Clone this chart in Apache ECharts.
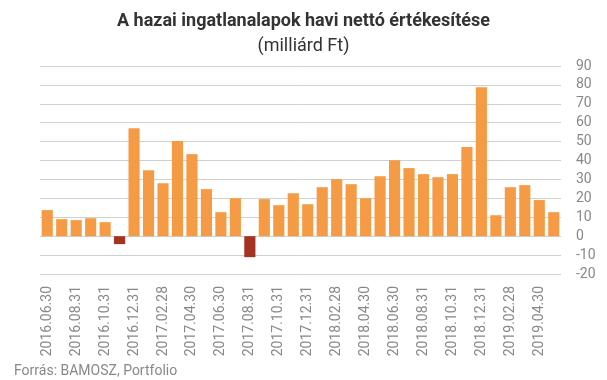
<!DOCTYPE html>
<html><head><meta charset="utf-8">
<script src="https://cdn.jsdelivr.net/npm/echarts@6/dist/echarts.min.js"></script>
<style>html,body{margin:0;padding:0;background:#fff}#c{width:607px;height:380px}</style>
</head><body><div id="c"></div>
<script>
const categories = ["2016.06.30","2016.07.31","2016.08.31","2016.09.30","2016.10.31","2016.11.30","2016.12.31","2017.01.31","2017.02.28","2017.03.31","2017.04.30","2017.05.31","2017.06.30","2017.07.31","2017.08.31","2017.09.30","2017.10.31","2017.11.30","2017.12.31","2018.01.31","2018.02.28","2018.03.31","2018.04.30","2018.05.31","2018.06.30","2018.07.31","2018.08.31","2018.09.30","2018.10.31","2018.11.30","2018.12.31","2019.01.31","2019.02.28","2019.03.31","2019.04.30","2019.05.31"];
const values = [13.8,9.0,8.5,9.5,7.4,-4.2,57.1,34.9,28.0,50.3,43.4,24.9,12.7,20.1,-11.1,19.6,16.4,22.7,16.9,25.9,30.2,27.5,20.1,31.7,40.2,36.0,32.8,31.2,32.8,47.1,78.8,11.1,25.9,27.0,19.1,12.7];
const yTicks = {min:-20, max:90, interval:10};
const chart = echarts.init(document.getElementById('c'));
chart.setOption({
  animation:false,
  textStyle:{fontFamily:'Roboto'},
  title:[
    {text:'A hazai ingatlanalapok havi nettó értékesítése', left:'center', top:7,
     textStyle:{fontSize:18, fontWeight:'bold', color:'#333', fontFamily:'Roboto'}},
    {text:'(milliárd Ft)', left:'center', top:32,
     textStyle:{fontSize:18, fontWeight:'normal', color:'#333', fontFamily:'Roboto'}},
    {text:'Forrás: BAMOSZ, Portfolio', left:9, top:359,
     textStyle:{fontSize:14, fontWeight:'normal', color:'#888', fontFamily:'Roboto'}}
  ],
  grid:{left:40, right:46, top:66, bottom:106},
  xAxis:{type:'category', data:categories,
    axisLine:{show:false}, axisTick:{show:false},
    axisLabel:{interval:1, rotate:90, color:'#888', fontSize:14, margin:12, fontFamily:'Roboto'}},
  yAxis:{type:'value', position:'right', min:yTicks.min, max:yTicks.max, interval:yTicks.interval,
    axisLine:{show:false}, axisTick:{show:false},
    axisLabel:{color:'#888', fontSize:14, margin:15, align:'left', fontFamily:'Roboto'},
    splitLine:{lineStyle:{color:'#d0d0d0', width:1}}},
  series:[{type:'bar', data:values.map(v=>({value:v, itemStyle:{color: v<0 ? '#A63222' : '#F59B45'}})),
    barCategoryGap:'23%'}]
});
</script></body></html>
